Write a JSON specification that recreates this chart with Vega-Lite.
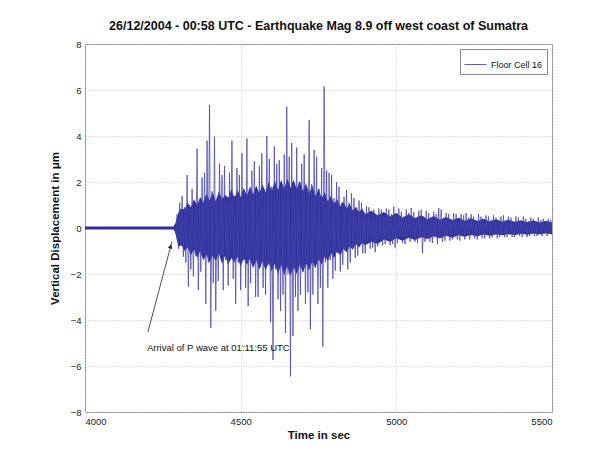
{
  "$schema": "https://vega.github.io/schema/vega-lite/v6.json",
  "width": 467,
  "height": 368,
  "autosize": {"type": "none"},
  "padding": {"left": 85, "top": 44, "right": 39, "bottom": 47},
  "background": "white",
  "title": {"text": "26/12/2004 - 00:58 UTC - Earthquake Mag 8.9 off west coast of Sumatra", "anchor": "middle", "font": "Liberation Sans", "fontSize": 12.5, "fontWeight": "bold", "color": "#111", "offset": 7},
  "config": {
    "view": {"stroke": "#8a8a8a", "strokeWidth": 1},
    "axis": {"labelFont": "Liberation Sans", "labelFontSize": 9.5, "labelColor": "#222", "titleFont": "Liberation Sans", "titleFontSize": 11.5, "titleFontWeight": "bold", "titleColor": "#111", "domain": false, "ticks": false, "grid": true, "gridColor": "#c4c4c4", "gridDash": [1, 2], "gridWidth": 1, "labelPadding": 4},
    "legend": {"labelFont": "Liberation Sans", "labelFontSize": 9, "labelColor": "#111", "fillColor": "white", "strokeColor": "#8a8a8a", "padding": 4, "cornerRadius": 0, "symbolType": "stroke", "symbolSize": 484, "symbolStrokeWidth": 1, "orient": "top-right", "offset": 5}
  },
  "datasets": {
    "core": [
      {"t":4000,"v":-0.07,"v2":0.07},{"t":4284,"v":-0.07,"v2":0.07},{"t":4290,"v":-0.2,"v2":0.2},{"t":4296,"v":-0.6,"v2":0.5},{"t":4302,"v":-0.8,"v2":0.75},{"t":4310,"v":-0.75,"v2":0.85},{"t":4320,"v":-1.0,"v2":0.8},{"t":4330,"v":-0.85,"v2":1.1},{"t":4340,"v":-1.2,"v2":0.9},{"t":4350,"v":-0.95,"v2":1.25},
      {"t":4360,"v":-1.3,"v2":1.0},{"t":4370,"v":-1.0,"v2":1.35},{"t":4380,"v":-1.4,"v2":1.1},{"t":4390,"v":-1.15,"v2":1.5},{"t":4400,"v":-1.5,"v2":1.2},{"t":4410,"v":-1.2,"v2":1.55},{"t":4420,"v":-1.45,"v2":1.15},{"t":4430,"v":-1.1,"v2":1.6},{"t":4440,"v":-1.55,"v2":1.25},{"t":4450,"v":-1.2,"v2":1.45},
      {"t":4460,"v":-1.6,"v2":1.3},{"t":4470,"v":-1.3,"v2":1.7},{"t":4480,"v":-1.5,"v2":1.3},{"t":4490,"v":-1.25,"v2":1.65},{"t":4500,"v":-1.7,"v2":1.35},{"t":4510,"v":-1.3,"v2":1.75},{"t":4520,"v":-1.6,"v2":1.4},{"t":4530,"v":-1.35,"v2":1.8},{"t":4540,"v":-1.75,"v2":1.45},{"t":4550,"v":-1.4,"v2":1.85},
      {"t":4560,"v":-1.8,"v2":1.5},{"t":4570,"v":-1.45,"v2":1.9},{"t":4580,"v":-1.85,"v2":1.55},{"t":4590,"v":-1.5,"v2":2.0},{"t":4600,"v":-1.9,"v2":1.6},{"t":4610,"v":-1.55,"v2":2.05},{"t":4620,"v":-2.0,"v2":1.65},{"t":4630,"v":-1.6,"v2":2.1},{"t":4640,"v":-2.05,"v2":1.7},{"t":4650,"v":-1.65,"v2":2.15},
      {"t":4660,"v":-2.1,"v2":1.75},{"t":4670,"v":-1.7,"v2":2.1},{"t":4680,"v":-2.0,"v2":1.7},{"t":4690,"v":-1.6,"v2":2.05},{"t":4700,"v":-1.95,"v2":1.6},{"t":4710,"v":-1.55,"v2":1.95},{"t":4720,"v":-1.85,"v2":1.5},{"t":4730,"v":-1.45,"v2":1.85},{"t":4740,"v":-1.75,"v2":1.4},{"t":4750,"v":-1.35,"v2":1.7},
      {"t":4760,"v":-1.6,"v2":1.3},{"t":4770,"v":-1.25,"v2":1.55},{"t":4780,"v":-1.45,"v2":1.15},{"t":4790,"v":-1.1,"v2":1.4},{"t":4800,"v":-1.3,"v2":1.05},{"t":4810,"v":-1.0,"v2":1.25},{"t":4820,"v":-1.2,"v2":0.95},{"t":4830,"v":-0.9,"v2":1.15},{"t":4840,"v":-1.05,"v2":0.85},{"t":4850,"v":-0.8,"v2":1.05},
      {"t":4860,"v":-0.95,"v2":0.75},{"t":4870,"v":-0.7,"v2":0.9},{"t":4880,"v":-0.85,"v2":0.7},{"t":4890,"v":-0.65,"v2":0.85},{"t":4900,"v":-0.75,"v2":0.6},{"t":4920,"v":-0.6,"v2":0.75},{"t":4940,"v":-0.7,"v2":0.55},{"t":4960,"v":-0.5,"v2":0.7},{"t":4980,"v":-0.6,"v2":0.5},{"t":5000,"v":-0.45,"v2":0.65},
      {"t":5020,"v":-0.55,"v2":0.45},{"t":5040,"v":-0.42,"v2":0.6},{"t":5060,"v":-0.52,"v2":0.42},{"t":5080,"v":-0.4,"v2":0.55},{"t":5100,"v":-0.48,"v2":0.38},{"t":5120,"v":-0.36,"v2":0.52},{"t":5140,"v":-0.45,"v2":0.36},{"t":5160,"v":-0.34,"v2":0.48},{"t":5180,"v":-0.42,"v2":0.34},{"t":5200,"v":-0.32,"v2":0.45},
      {"t":5220,"v":-0.38,"v2":0.32},{"t":5240,"v":-0.3,"v2":0.42},{"t":5260,"v":-0.36,"v2":0.3},{"t":5280,"v":-0.28,"v2":0.4},{"t":5300,"v":-0.34,"v2":0.28},{"t":5320,"v":-0.27,"v2":0.38},{"t":5340,"v":-0.32,"v2":0.27},{"t":5360,"v":-0.26,"v2":0.36},{"t":5380,"v":-0.3,"v2":0.26},{"t":5400,"v":-0.25,"v2":0.34},
      {"t":5420,"v":-0.29,"v2":0.25},{"t":5440,"v":-0.24,"v2":0.33},{"t":5460,"v":-0.28,"v2":0.24},{"t":5480,"v":-0.23,"v2":0.32},{"t":5500,"v":-0.27,"v2":0.24}
    ],
    "sig": [
      {"t":4288,"v":0.1},{"t":4292,"v":-0.25},{"t":4296,"v":0.6},{"t":4300,"v":-0.9},{"t":4304,"v":1.1},{"t":4308,"v":-0.7},{"t":4312,"v":1.4},{"t":4316,"v":-1.25},{"t":4320,"v":0.9},{"t":4324,"v":-1.5},
      {"t":4328,"v":2.3},{"t":4332,"v":-2.55},{"t":4336,"v":1.0},{"t":4340,"v":-1.8},{"t":4344,"v":1.7},{"t":4348,"v":-2.1},{"t":4352,"v":0.9},{"t":4356,"v":-1.2},{"t":4360,"v":3.45},{"t":4364,"v":-2.7},
      {"t":4368,"v":1.2},{"t":4372,"v":-1.9},{"t":4376,"v":2.2},{"t":4380,"v":-1.1},{"t":4384,"v":2.4},{"t":4388,"v":-3.3},{"t":4392,"v":3.8},{"t":4396,"v":-1.5},{"t":4400,"v":5.35},{"t":4404,"v":-4.35},
      {"t":4408,"v":1.6},{"t":4412,"v":-2.4},{"t":4416,"v":3.97},{"t":4420,"v":-3.6},{"t":4424,"v":1.3},{"t":4428,"v":-2.3},{"t":4432,"v":2.8},{"t":4436,"v":-1.2},{"t":4440,"v":2.3},{"t":4444,"v":-2.7},
      {"t":4448,"v":2.7},{"t":4452,"v":-1.4},{"t":4456,"v":1.2},{"t":4460,"v":-2.5},{"t":4464,"v":2.4},{"t":4468,"v":-1.3},{"t":4472,"v":3.8},{"t":4476,"v":-2.2},{"t":4480,"v":1.4},{"t":4484,"v":-3.3},
      {"t":4488,"v":2.6},{"t":4492,"v":-1.5},{"t":4496,"v":2.3},{"t":4500,"v":-2.7},{"t":4504,"v":3.25},{"t":4508,"v":-1.4},{"t":4512,"v":1.6},{"t":4516,"v":-2.6},{"t":4520,"v":3.9},{"t":4524,"v":-3.4},
      {"t":4528,"v":1.7},{"t":4532,"v":-2.4},{"t":4536,"v":2.5},{"t":4540,"v":-1.5},{"t":4544,"v":2.9},{"t":4548,"v":-3.0},{"t":4552,"v":1.6},{"t":4556,"v":-3.0},{"t":4560,"v":2.7},{"t":4564,"v":-1.7},
      {"t":4568,"v":3.25},{"t":4572,"v":-2.6},{"t":4576,"v":1.7},{"t":4580,"v":-2.9},{"t":4584,"v":4.0},{"t":4588,"v":-1.6},{"t":4592,"v":3.0},{"t":4596,"v":-4.1},{"t":4600,"v":1.8},{"t":4604,"v":-5.74},
      {"t":4608,"v":3.55},{"t":4612,"v":-1.8},{"t":4616,"v":2.8},{"t":4620,"v":-3.1},{"t":4624,"v":2.95},{"t":4628,"v":-3.6},{"t":4632,"v":1.8},{"t":4636,"v":-2.9},{"t":4640,"v":3.2},{"t":4644,"v":-4.57},
      {"t":4648,"v":5.27},{"t":4652,"v":-2.0},{"t":4656,"v":3.1},{"t":4660,"v":-6.45},{"t":4664,"v":3.7},{"t":4668,"v":-4.7},{"t":4672,"v":1.9},{"t":4676,"v":-3.0},{"t":4680,"v":3.5},{"t":4684,"v":-3.6},
      {"t":4688,"v":2.0},{"t":4692,"v":-2.9},{"t":4696,"v":2.8},{"t":4700,"v":-1.9},{"t":4704,"v":3.2},{"t":4708,"v":-3.3},{"t":4712,"v":1.8},{"t":4716,"v":-2.8},{"t":4720,"v":4.7},{"t":4724,"v":-4.4},
      {"t":4728,"v":1.9},{"t":4732,"v":-2.9},{"t":4736,"v":3.4},{"t":4740,"v":-1.7},{"t":4744,"v":3.1},{"t":4748,"v":-3.3},{"t":4752,"v":1.7},{"t":4756,"v":-2.6},{"t":4760,"v":2.6},{"t":4764,"v":-5.15},
      {"t":4768,"v":6.15},{"t":4772,"v":-1.5},{"t":4776,"v":2.5},{"t":4780,"v":-2.6},{"t":4784,"v":2.4},{"t":4788,"v":-1.4},{"t":4792,"v":2.3},{"t":4796,"v":-2.2},{"t":4800,"v":1.3},{"t":4804,"v":-1.85},
      {"t":4808,"v":2.0},{"t":4812,"v":-1.1},{"t":4816,"v":1.8},{"t":4820,"v":-1.9},{"t":4824,"v":1.1},{"t":4828,"v":-1.6},{"t":4832,"v":1.36},{"t":4836,"v":-1.0},{"t":4840,"v":1.65},{"t":4844,"v":-1.8},
      {"t":4848,"v":1.1},{"t":4852,"v":-1.5},{"t":4856,"v":1.5},{"t":4860,"v":-0.9},{"t":4864,"v":1.3},{"t":4868,"v":-1.3},{"t":4872,"v":0.9},{"t":4876,"v":-1.2},{"t":4880,"v":1.2},{"t":4884,"v":-0.7},
      {"t":4888,"v":1.1},{"t":4892,"v":-1.1},{"t":4896,"v":0.7},{"t":4900,"v":-1.1},{"t":4904,"v":0.95},{"t":4908,"v":-0.6},{"t":4912,"v":0.9},{"t":4916,"v":-0.9},{"t":4920,"v":0.55},{"t":4924,"v":-0.85},
      {"t":4928,"v":0.8},{"t":4932,"v":-1.05},{"t":4936,"v":0.55},{"t":4940,"v":-0.8},{"t":4944,"v":0.85},{"t":4948,"v":-0.5},{"t":4952,"v":0.8},{"t":4956,"v":-0.75},{"t":4960,"v":0.5},{"t":4964,"v":-0.7},
      {"t":4968,"v":0.85},{"t":4972,"v":-0.45},{"t":4976,"v":0.8},{"t":4980,"v":-0.75},{"t":4984,"v":0.6},{"t":4988,"v":-0.7},{"t":4992,"v":0.93},{"t":4996,"v":-0.85},{"t":5000,"v":0.5},{"t":5004,"v":-0.65},
      {"t":5008,"v":0.85},{"t":5012,"v":-0.4},{"t":5016,"v":0.7},{"t":5020,"v":-0.65},{"t":5024,"v":0.5},{"t":5028,"v":-0.7},{"t":5032,"v":0.8},{"t":5036,"v":-0.4},{"t":5040,"v":0.65},{"t":5044,"v":-0.6},
      {"t":5048,"v":0.87},{"t":5052,"v":-0.45},{"t":5056,"v":0.7},{"t":5060,"v":-0.6},{"t":5064,"v":0.45},{"t":5068,"v":-0.65},{"t":5072,"v":0.75},{"t":5076,"v":-0.4},{"t":5080,"v":0.8},{"t":5084,"v":-1.1},
      {"t":5088,"v":0.5},{"t":5092,"v":-0.6},{"t":5096,"v":0.75},{"t":5100,"v":-0.4},{"t":5104,"v":0.65},{"t":5108,"v":-0.6},{"t":5112,"v":0.45},{"t":5116,"v":-0.65},{"t":5120,"v":0.7},{"t":5124,"v":-0.4},
      {"t":5128,"v":0.6},{"t":5132,"v":-0.7},{"t":5136,"v":0.87},{"t":5140,"v":-0.45},{"t":5144,"v":0.8},{"t":5148,"v":-0.6},{"t":5152,"v":0.45},{"t":5156,"v":-0.55},{"t":5160,"v":0.65},{"t":5164,"v":-0.35},
      {"t":5168,"v":0.6},{"t":5172,"v":-0.55},{"t":5176,"v":0.4},{"t":5180,"v":-0.5},{"t":5184,"v":0.65},{"t":5188,"v":-0.35},{"t":5192,"v":0.6},{"t":5196,"v":-0.5},{"t":5200,"v":0.4},{"t":5204,"v":-0.55},
      {"t":5208,"v":0.6},{"t":5212,"v":-0.35},{"t":5216,"v":0.55},{"t":5220,"v":-0.5},{"t":5224,"v":0.65},{"t":5228,"v":-0.35},{"t":5232,"v":0.45},{"t":5236,"v":-0.5},{"t":5240,"v":0.6},{"t":5244,"v":-0.3},
      {"t":5248,"v":0.5},{"t":5252,"v":-0.45},{"t":5256,"v":0.35},{"t":5260,"v":-0.5},{"t":5264,"v":0.6},{"t":5268,"v":-0.3},{"t":5272,"v":0.5},{"t":5276,"v":-0.45},{"t":5280,"v":0.35},{"t":5284,"v":-0.45},
      {"t":5288,"v":0.55},{"t":5292,"v":-0.3},{"t":5296,"v":0.5},{"t":5300,"v":-0.45},{"t":5304,"v":0.35},{"t":5308,"v":-0.4},{"t":5312,"v":0.55},{"t":5316,"v":-0.3},{"t":5320,"v":0.45},{"t":5324,"v":-0.45},
      {"t":5328,"v":0.35},{"t":5332,"v":-0.4},{"t":5336,"v":0.5},{"t":5340,"v":-0.3},{"t":5344,"v":0.55},{"t":5348,"v":-0.4},{"t":5352,"v":0.35},{"t":5356,"v":-0.4},{"t":5360,"v":0.5},{"t":5364,"v":-0.3},
      {"t":5368,"v":0.45},{"t":5372,"v":-0.4},{"t":5376,"v":0.3},{"t":5380,"v":-0.4},{"t":5384,"v":0.5},{"t":5388,"v":-0.3},{"t":5392,"v":0.45},{"t":5396,"v":-0.35},{"t":5400,"v":0.3},{"t":5404,"v":-0.4},
      {"t":5408,"v":0.5},{"t":5412,"v":-0.25},{"t":5416,"v":0.4},{"t":5420,"v":-0.4},{"t":5424,"v":0.3},{"t":5428,"v":-0.35},{"t":5432,"v":0.45},{"t":5436,"v":-0.25},{"t":5440,"v":0.4},{"t":5444,"v":-0.35},
      {"t":5448,"v":0.3},{"t":5452,"v":-0.35},{"t":5456,"v":0.45},{"t":5460,"v":-0.25},{"t":5464,"v":0.35},{"t":5468,"v":-0.35},{"t":5472,"v":0.4},{"t":5476,"v":-0.25},{"t":5480,"v":0.3},{"t":5484,"v":-0.35},
      {"t":5488,"v":0.4},{"t":5492,"v":-0.25},{"t":5496,"v":0.35},{"t":5500,"v":-0.3}
    ],
    "arrow": [{"t":4202,"v":-4.52,"t2":4279,"v2":-0.61}],
    "head": [{"t":4275,"v":-0.8}],
    "note": [{"t":4199,"v":-5.22,"label":"Arrival of P wave at 01:11:55 UTC"}]
  },
  "encoding": {
    "x": {"field": "t", "type": "quantitative", "scale": {"domain": [4000, 5500], "nice": false, "zero": false}, "axis": {"values": [4000, 4500, 5000, 5500], "format": "d", "title": "Time in sec", "titlePadding": 4}},
    "y": {"field": "v", "type": "quantitative", "scale": {"domain": [-8, 8], "nice": false}, "axis": {"values": [-8, -6, -4, -2, 0, 2, 4, 6, 8], "title": "Vertical Displacement in μm", "titlePadding": 10}}
  },
  "layer": [
    {"data": {"name": "core"}, "mark": {"type": "area", "color": "#2e2e94", "opacity": 1}, "encoding": {"y2": {"field": "v2"}}},
    {"data": {"name": "sig"}, "mark": {"type": "line", "strokeWidth": 0.9, "clip": true, "opacity": 0.85}, "encoding": {"color": {"datum": "Floor Cell 16", "type": "nominal", "scale": {"range": ["#4444b0"]}, "legend": {"title": null}}}},
    {"data": {"name": "arrow"}, "mark": {"type": "rule", "color": "#222", "strokeWidth": 0.8}, "encoding": {"x2": {"field": "t2"}, "y2": {"field": "v2"}}},
    {"data": {"name": "head"}, "mark": {"type": "point", "shape": "triangle-up", "angle": 15, "size": 22, "filled": true, "color": "#222", "opacity": 1}},
    {"data": {"name": "note"}, "mark": {"type": "text", "align": "left", "baseline": "middle", "font": "Liberation Sans", "fontSize": 9.5, "color": "#111"}, "encoding": {"text": {"field": "label"}}}
  ]
}
